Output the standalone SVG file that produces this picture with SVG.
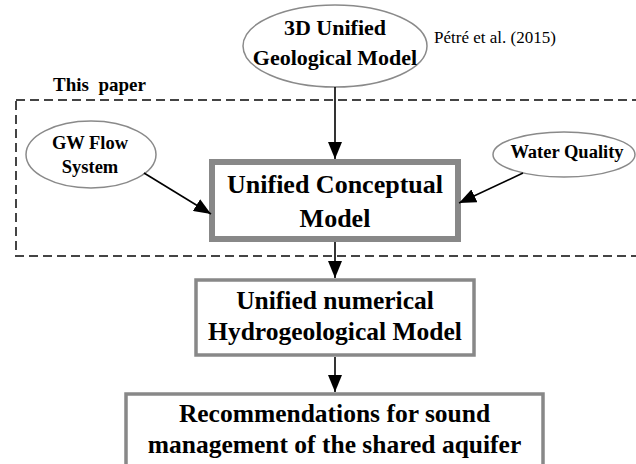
<svg xmlns="http://www.w3.org/2000/svg" width="636" height="464" viewBox="0 0 636 464">
<defs>
<style>
.t{font-family:"Liberation Serif","Times New Roman",serif;font-weight:bold;fill:#000;text-anchor:middle}
.ell{fill:#fff;stroke:#8a8a8a;stroke-width:1.5}
.box{fill:#fff;stroke:#888}
.con{stroke:#000;stroke-width:1.6;fill:none;marker-end:url(#ah)}
</style>
<marker id="ah" markerUnits="userSpaceOnUse" markerWidth="18" markerHeight="14" refX="17" refY="7" orient="auto">
<path d="M0,0 L17,7 L0,14 z" fill="#000"/>
</marker>
</defs>
<rect width="636" height="464" fill="#fff"/>
<rect id="frame" x="16" y="100" width="640" height="156" fill="none" stroke="#444" stroke-width="2" stroke-dasharray="9 5"/>
<text x="53" y="91" class="t" style="text-anchor:start;font-size:19px" xml:space="preserve">This  paper</text>
<text x="434" y="43" style="font-family:'Liberation Serif','Times New Roman',serif;font-size:17px;fill:#000">Pétré et al. (2015)</text>

<g id="geo">
<ellipse class="ell" cx="335" cy="46" rx="92" ry="41"/>
<text class="t" x="335" y="35" font-size="22">3D Unified</text>
<text class="t" x="335" y="65" font-size="22">Geological Model</text>
</g>
<g id="gw">
<ellipse class="ell" cx="91" cy="154.5" rx="65" ry="33.5"/>
<text class="t" x="90" y="149" font-size="18.5">GW Flow</text>
<text class="t" x="90" y="173" font-size="18.5">System</text>
</g>
<g id="wq">
<ellipse class="ell" cx="564" cy="154.5" rx="71" ry="22.5"/>
<text class="t" x="567" y="158" font-size="18.5">Water Quality</text>
</g>
<g id="ucm">
<rect class="box" x="212" y="162" width="246" height="77" stroke-width="6"/>
<text class="t" x="335" y="193" font-size="26">Unified Conceptual</text>
<text class="t" x="335" y="227" font-size="26">Model</text>
</g>
<g id="unhm">
<rect class="box" x="196" y="280" width="278" height="75" stroke-width="3.5"/>
<text class="t" x="335" y="309" font-size="25.5">Unified numerical</text>
<text class="t" x="335" y="340" font-size="25.5">Hydrogeological Model</text>
</g>
<g id="rec">
<rect class="box" x="126" y="394" width="417" height="85" stroke-width="3.5"/>
<text class="t" x="334.5" y="422" font-size="25.5">Recommendations for sound</text>
<text class="t" x="334.5" y="453" font-size="25.5">management of the shared aquifer</text>
</g>
<g id="connectors">
<line class="con" x1="335" y1="87" x2="335" y2="159"/>
<line class="con" x1="144" y1="173" x2="211" y2="214"/>
<line class="con" x1="523" y1="173" x2="459" y2="203"/>
<line class="con" x1="335" y1="242" x2="335" y2="278"/>
<line class="con" x1="335" y1="357" x2="335" y2="392"/>
</g>
</svg>
